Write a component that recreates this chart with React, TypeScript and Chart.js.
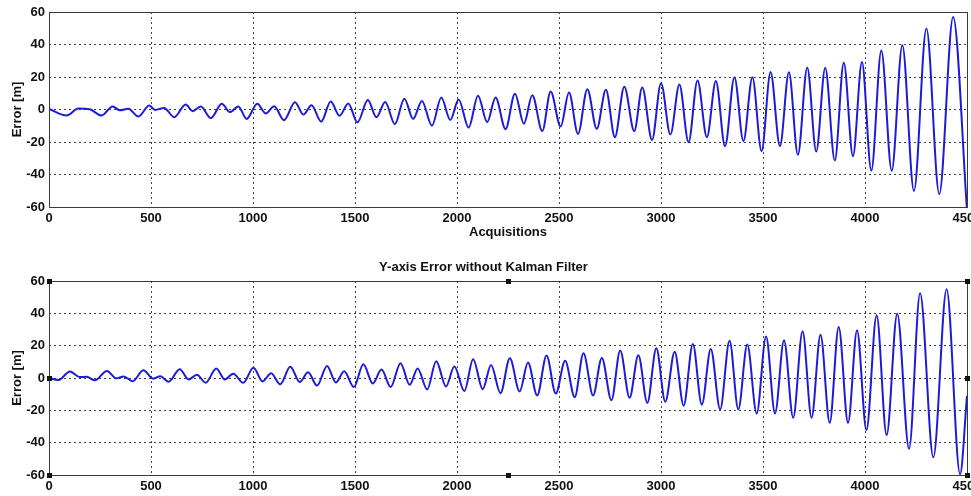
import React, { useEffect, useRef } from 'react';
import Chart from 'chart.js/auto';

// ---- data (extrema; smooth curve drawn through them) ----
const xTickValues = [0, 500, 1000, 1500, 2000, 2500, 3000, 3500, 4000, 4500];
const yTickValues = [-60, -40, -20, 0, 20, 40, 60];

const topX = [
  0, 87, 144, 200, 258, 312, 348, 389, 438, 492, 520, 564, 614, 670, 704, 744, 793, 847, 887, 928,
  969, 1021, 1062, 1104, 1152, 1206, 1247, 1287, 1334, 1381, 1424, 1467, 1512, 1563, 1605, 1648, 1695, 1742, 1785, 1828,
  1877, 1923, 1967, 2008, 2057, 2103, 2148, 2189, 2238, 2284, 2328, 2369, 2418, 2459, 2508, 2549, 2593, 2639, 2685, 2730,
  2774, 2820, 2869, 2908, 2956, 3000, 3046, 3090, 3135, 3179, 3225, 3269, 3314, 3360, 3404, 3448, 3493, 3537, 3583, 3627,
  3671, 3717, 3761, 3805, 3852, 3896, 3941, 3985, 4031, 4080, 4131, 4183, 4240, 4301, 4364, 4432, 4500,
];
const topY = [
  0.4, -3.7, 0.6, 0.1, -3.7, 1.9, -0.5, 0.5, -4.3, 2.5, -0.3, 1.0, -4.7, 3.1, -1.0, 1.9, -5.3, 3.5, -1.6, 1.9,
  -5.8, 3.6, -2.4, 2.0, -6.6, 4.5, -3.1, 2.6, -7.5, 4.9, -3.9, 3.7, -7.9, 5.8, -4.8, 4.6, -9.0, 6.6, -5.8, 5.3,
  -10.0, 7.4, -6.4, 6.2, -11.1, 8.4, -7.8, 7.4, -12.1, 9.7, -8.8, 8.8, -13.3, 11.1, -10.5, 10.5, -15.0, 12.5, -11.9, 12.1,
  -17.0, 14.0, -13.3, 13.5, -18.7, 16.2, -15.4, 15.4, -20.1, 17.9, -17.0, 17.5, -22.6, 19.9, -19.5, 19.9, -25.7, 23.0, -22.6, 23.0,
  -27.9, 25.9, -25.9, 25.7, -31.4, 28.7, -28.7, 29.2, -37.6, 36.3, -37.7, 39.6, -50.1, 49.8, -52.0, 57.0, -62.0,
];

const botX = [
  0, 46, 103, 150, 185, 225, 284, 330, 366, 410, 463, 510, 546, 586, 641, 684, 725, 768, 820, 862,
  903, 952, 1002, 1047, 1089, 1133, 1183, 1229, 1270, 1314, 1363, 1406, 1447, 1494, 1541, 1587, 1630, 1675, 1723, 1768,
  1807, 1854, 1898, 1946, 1987, 2036, 2079, 2126, 2167, 2213, 2259, 2307, 2348, 2393, 2439, 2484, 2530, 2577, 2620, 2667,
  2710, 2757, 2800, 2846, 2889, 2933, 2977, 3021, 3067, 3111, 3156, 3200, 3244, 3290, 3336, 3379, 3423, 3469, 3515, 3559,
  3603, 3648, 3694, 3738, 3782, 3827, 3871, 3917, 3961, 4007, 4057, 4106, 4158, 4216, 4270, 4335, 4400, 4466, 4500,
];
const botY = [
  0.0, -1.2, 4.0, 0.6, 0.7, -1.4, 4.4, -0.2, 1.0, -2.0, 4.8, -0.4, 1.1, -2.3, 5.4, -0.9, 2.0, -2.9, 5.9, -0.9,
  2.7, -3.0, 6.3, -2.1, 3.0, -3.9, 6.9, -2.5, 3.5, -4.7, 7.5, -2.8, 4.1, -5.6, 8.5, -3.4, 5.2, -5.6, 9.2, -4.2,
  5.9, -7.1, 10.4, -5.2, 7.1, -8.1, 11.6, -6.9, 8.1, -9.4, 12.2, -8.3, 9.6, -10.8, 13.9, -9.6, 10.6, -11.8, 15.3, -10.8,
  12.4, -13.7, 17.0, -12.2, 14.1, -15.4, 18.4, -14.7, 16.3, -17.1, 21.1, -16.5, 18.0, -19.4, 23.1, -19.4, 20.7, -21.9, 25.6, -21.9,
  23.3, -24.6, 28.9, -24.6, 26.7, -27.7, 31.6, -27.7, 29.5, -32.2, 38.8, -35.3, 39.8, -43.7, 52.4, -49.0, 54.9, -59.5, -11.0,
];

const FONT = "'Liberation Sans', Arial, Helvetica, sans-serif";
const LINE_COLOR = '#1c1cd8';

type PanelOpts = {
  xs: number[];
  ys: number[];
  title?: string;
  xTitle?: string;
  xAxisHeight: number;
  padTop: number;
  handles?: boolean;
};

const boxPlugin = {
  id: 'matlabBox',
  beforeDatasetsDraw(chart: any) {
    const { ctx, chartArea } = chart;
    ctx.save();
    ctx.strokeStyle = '#3a3a3a';
    ctx.lineWidth = 1;
    ctx.setLineDash([]);
    ctx.strokeRect(
      Math.round(chartArea.left) + 0.5,
      Math.round(chartArea.top) + 0.5,
      Math.round(chartArea.right - chartArea.left),
      Math.round(chartArea.bottom - chartArea.top)
    );
    ctx.restore();
  },
  afterDraw(chart: any) {
    const opts = chart.options.plugins.matlabBox || {};
    if (!opts.handles) return;
    const { ctx, chartArea } = chart;
    const { left, right, top, bottom } = chartArea;
    const mx = (left + right) / 2;
    const my = (top + bottom) / 2;
    const pts = [
      [left, top], [mx, top], [right, top], [right, my],
      [right, bottom], [mx, bottom], [left, bottom], [left, my],
    ];
    ctx.save();
    ctx.fillStyle = '#111';
    for (const [x, y] of pts) {
      ctx.fillRect(Math.round(x) - 2, Math.round(y) - 2, 5, 5);
    }
    ctx.restore();
  },
};

function makeConfig(o: PanelOpts): any {
  const data = o.xs.map((x, i) => ({ x, y: o.ys[i] }));
  const tickFont = { family: FONT, size: 13, weight: 'bold' as const };
  return {
    type: 'line',
    data: {
      datasets: [
        {
          data,
          borderColor: LINE_COLOR,
          borderWidth: 2,
          pointRadius: 0,
          fill: false,
          cubicInterpolationMode: 'monotone',
        },
      ],
    },
    options: {
      animation: false,
      responsive: false,
      maintainAspectRatio: false,
      layout: { padding: { top: o.padTop, right: 4, left: 0, bottom: 0 } },
      plugins: {
        legend: { display: false },
        tooltip: { enabled: false },
        title: o.title
          ? {
              display: true,
              text: o.title,
              color: '#111',
              font: { family: FONT, size: 13, weight: 'bold' },
              padding: { top: 10, bottom: 5.4 },
            }
          : { display: false },
        matlabBox: { handles: !!o.handles },
      },
      scales: {
        x: {
          type: 'linear',
          min: 0,
          max: 4500,
          afterBuildTicks: (scale: any) => {
            scale.ticks = xTickValues.map((v) => ({ value: v }));
          },
          afterFit: (scale: any) => {
            scale.height = o.xAxisHeight;
            scale.paddingLeft = 0;
            scale.paddingRight = 0;
          },
          ticks: {
            autoSkip: false,
            maxRotation: 0,
            minRotation: 0,
            padding: 4,
            color: '#111',
            font: tickFont,
            callback: (v: any) => String(v),
          },
          grid: { color: 'rgba(30,30,30,0.85)', lineWidth: 1, drawTicks: false },
          border: { display: false, dash: [2, 3] },
          title: o.xTitle
            ? {
                display: true,
                text: o.xTitle,
                color: '#111',
                font: { family: FONT, size: 13, weight: 'bold' },
                padding: { top: 0, bottom: 5 },
              }
            : { display: false },
        },
        y: {
          type: 'linear',
          min: -60,
          max: 60,
          afterBuildTicks: (scale: any) => {
            scale.ticks = yTickValues.map((v) => ({ value: v }));
          },
          afterFit: (scale: any) => {
            scale.width = 49;
          },
          ticks: {
            padding: 4,
            color: '#111',
            font: tickFont,
            callback: (v: any) => String(v),
          },
          grid: { color: 'rgba(30,30,30,0.85)', lineWidth: 1, drawTicks: false },
          border: { display: false, dash: [2, 3] },
          title: {
            display: true,
            text: 'Error [m]',
            color: '#111',
            font: { family: FONT, size: 13, weight: 'bold' },
            padding: { top: 10, bottom: 0 },
          },
        },
      },
    },
    plugins: [boxPlugin],
  };
}

function Panel(props: { opts: PanelOpts; top: number; height: number }) {
  const ref = useRef<HTMLCanvasElement | null>(null);
  useEffect(() => {
    if (!ref.current) return;
    const chart = new Chart(ref.current, makeConfig(props.opts));
    return () => chart.destroy();
  }, []);
  return (
    <canvas
      ref={ref}
      width={971}
      height={props.height}
      style={{ position: 'absolute', left: 0, top: props.top, width: 971, height: props.height, display: 'block' }}
    />
  );
}

export default function App() {
  return (
    <div
      style={{
        position: 'absolute',
        left: 0,
        top: 0,
        width: 971,
        height: 496,
        background: '#fff',
        overflow: 'hidden',
      }}
    >
      <Panel
        top={0}
        height={245}
        opts={{ xs: topX, ys: topY, xTitle: 'Acquisitions', xAxisHeight: 38, padTop: 12 }}
      />
      <Panel
        top={250}
        height={246}
        opts={{
          xs: botX,
          ys: botY,
          title: 'Y-axis Error without Kalman Filter',
          xAxisHeight: 21,
          padTop: 0,
          handles: true,
        }}
      />
    </div>
  );
}
